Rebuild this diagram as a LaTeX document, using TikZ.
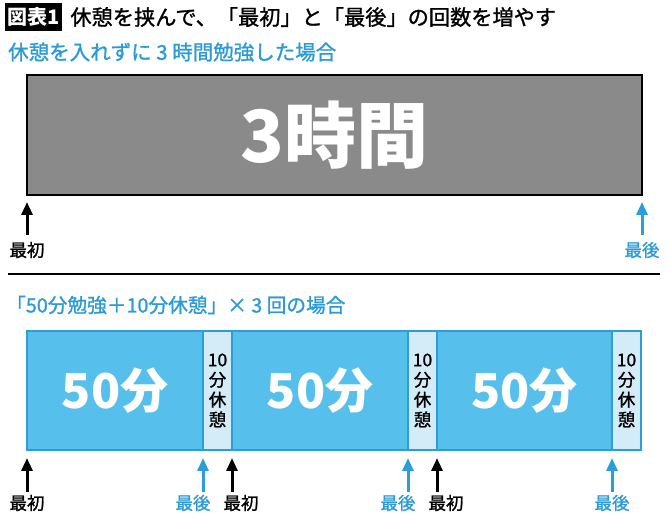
\documentclass[tikz,border=0pt]{standalone}
\usepackage{fontspec}
\usepackage{xcolor}
\usetikzlibrary{positioning,arrows.meta}
\newfontfamily\jp{Noto Sans CJK JP}
\newfontfamily\jpm{Noto Sans CJK JP}[FakeBold=1.2]
\definecolor{barblue}{HTML}{57BFEC}
\definecolor{restblue}{HTML}{D4ECF8}
\definecolor{lineblue}{HTML}{2A9ED8}
\definecolor{textblue}{HTML}{2C9AD5}
\definecolor{boxgray}{HTML}{8A8A8A}

\begin{document}
\begin{tikzpicture}[x=1pt,y=-1pt,node distance=0pt]
	\useasboundingbox (0,0) rectangle (670,518);
	\tikzstyle{block} = [rectangle, inner sep=0pt, outer sep=0pt, anchor=north west]
	\tikzstyle{study} = [block, fill=barblue, draw=lineblue, line width=1.5pt, minimum width=176pt, minimum height=119pt, text=white, font=\jp\bfseries\fontsize{48}{48}\selectfont]
	\tikzstyle{rest} = [block, fill=restblue, draw=lineblue, line width=1.5pt, minimum width=29pt, minimum height=119pt, align=center, font=\jpm\fontsize{17.5}{20}\selectfont]
	\tikzstyle{arrow} = [line width=3pt, -{Triangle[length=13pt,width=11pt]}]
	\tikzstyle{tag} = [inner sep=0pt, font=\jpm\fontsize{17.5}{17.5}\selectfont]
	\tikzstyle{heading} = [inner sep=0pt, anchor=west, text=textblue, font=\jpm\fontsize{20.5}{20.5}\selectfont]

	% title
	\node (fig) at (33.5,17) [fill=black, text=white, minimum width=57pt, minimum height=28pt, inner sep=0pt, font=\jp\bfseries\fontsize{20}{20}\selectfont] {図表1};
	\node (title) [right=8pt of fig, inner sep=0pt, font=\jpm\fontsize{21.2}{21.2}\selectfont] {休憩を挟んで、「最初」と「最後」の回数を増やす};

	% without break
	\node (sub1) at (8,52) [heading] {休憩を入れずに 3 時間勉強した場合};
	\node (whole) at (27,75) [block, fill=boxgray, draw=black, line width=2pt, minimum width=615pt, minimum height=120pt, text=white, font=\jp\bfseries\fontsize{72}{72}\selectfont] {3時間};
	\node (w1) at ([yshift=-55pt]whole.south west) [tag] {最初};
	\node (w2) at ([yshift=-55pt]whole.south east) [tag, text=textblue] {最後};
	\draw [arrow] ([yshift=-40pt]whole.south west) -- ([yshift=-7pt]whole.south west);
	\draw [arrow, lineblue] ([yshift=-40pt]whole.south east) -- ([yshift=-7pt]whole.south east);

	\coordinate (hl) at (8,274);
	\coordinate (hr) at (660,274);
	\draw [line width=1.5pt] (hl) -- (hr);

	% 3 x (50 + 10)
	\node (sub2) at (6,305) [heading, font=\jpm\fontsize{19.7}{19.7}\selectfont] {「50分勉強＋10分休憩」× 3 回の場合};
	\node (s1) at (27,331) [study] {50分};
	\node (r1) [rest, right=of s1] {10\\分\\休\\憩};
	\node (s2) [study, right=of r1] {50分};
	\node (r2) [rest, right=of s2] {10\\分\\休\\憩};
	\node (s3) [study, minimum width=175pt, right=of r2] {50分};
	\node (r3) [rest, right=of s3] {10\\分\\休\\憩};

	\draw [arrow] ([yshift=-42pt]s1.south west) -- ([yshift=-8pt]s1.south west);
	\draw [arrow, lineblue] ([yshift=-42pt]r1.south west) -- ([yshift=-8pt]r1.south west);
	\draw [arrow] ([yshift=-42pt]s2.south west) -- ([yshift=-8pt]s2.south west);
	\draw [arrow, lineblue] ([yshift=-42pt]r2.south west) -- ([yshift=-8pt]r2.south west);
	\draw [arrow] ([yshift=-42pt]s3.south west) -- ([yshift=-8pt]s3.south west);
	\draw [arrow, lineblue] ([yshift=-42pt]r3.south west) -- ([yshift=-8pt]r3.south west);

	\node (f1) at ([yshift=-53pt]s1.south west) [tag] {最初};
	\node (e1) at ([xshift=-10pt,yshift=-53pt]r1.south west) [tag, text=textblue] {最後};
	\node (f2) at ([xshift=9pt,yshift=-53pt]s2.south west) [tag] {最初};
	\node (e2) at ([xshift=-10pt,yshift=-53pt]r2.south west) [tag, text=textblue] {最後};
	\node (f3) at ([xshift=9pt,yshift=-53pt]s3.south west) [tag] {最初};
	\node (e3) at ([yshift=-53pt]r3.south west) [tag, text=textblue] {最後};
\end{tikzpicture}
\end{document}
